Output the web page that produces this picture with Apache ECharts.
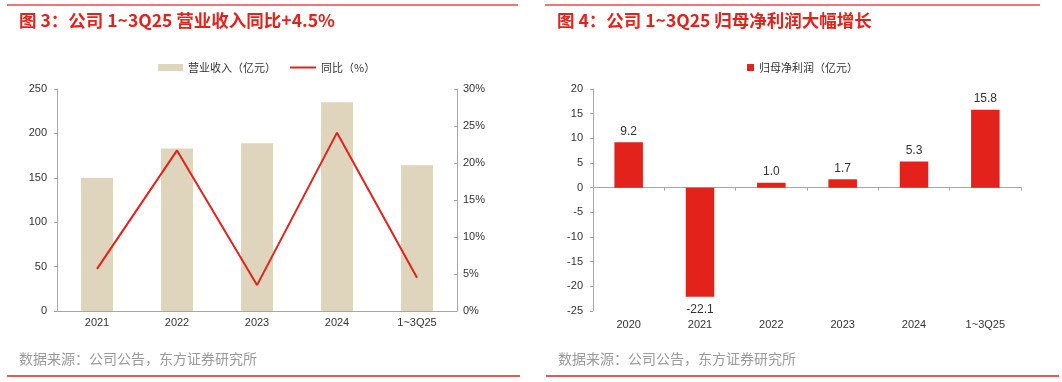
<!DOCTYPE html>
<html><head><meta charset="utf-8">
<script src="https://cdn.jsdelivr.net/npm/echarts@6/dist/echarts.min.js"></script>
<style>html,body{margin:0;padding:0;background:#fff}#c{width:1062px;height:382px}</style>
</head><body><div id="c"></div>
<script>
// Left chart data
const revCategories = ['2021', '2022', '2023', '2024', '1~3Q25'];
const revenue = [150, 183, 189, 235, 164];
const revYoY = [5.7, 21.7, 3.5, 24.1, 4.5];
const revLeftTicks = { min: 0, max: 250, interval: 50 };
const revRightTicks = { min: 0, max: 30, interval: 5 };
// Right chart data
const npCategories = ['2020', '2021', '2022', '2023', '2024', '1~3Q25'];
const netProfit = [9.2, -22.1, 1.0, 1.7, 5.3, 15.8];
const npTicks = { min: -25, max: 20, interval: 5 };

const titleLeft = '图 3：公司 1~3Q25 营业收入同比+4.5%';
const titleRight = '图 4：公司 1~3Q25 归母净利润大幅增长';
const source = '数据来源：公司公告，东方证券研究所';

const RED = '#E3221B';
const AX = '#A6A6A6';
const TXT = '#333333';
const cjk = '"Noto Sans CJK SC", "Liberation Sans", sans-serif';
const latin = '"Liberation Sans", Arial, sans-serif';

const chart = echarts.init(document.getElementById('c'), null, { renderer: 'canvas' });
const axisLabel = { color: TXT, fontSize: 11, fontFamily: latin };

chart.setOption({
  animation: false,
  textStyle: { fontFamily: latin },
  graphic: [
    { type: 'line', shape: { x1: 7, y1: 5, x2: 518, y2: 5 }, style: { stroke: '#E8494A', lineWidth: 1.5 } },
    { type: 'line', shape: { x1: 545, y1: 5, x2: 1040, y2: 5 }, style: { stroke: '#E8494A', lineWidth: 1.5 } },
    { type: 'text', left: 19, top: 12, style: { text: titleLeft, fill: RED, font: 'bold 17.5px ' + cjk } },
    { type: 'text', left: 557, top: 12, style: { text: titleRight, fill: RED, font: 'bold 17.5px ' + cjk } },
    { type: 'text', left: 19, top: 352, style: { text: source, fill: '#9A9A9A', font: '14px ' + cjk } },
    { type: 'text', left: 558, top: 352, style: { text: source, fill: '#9A9A9A', font: '14px ' + cjk } },
    { type: 'line', shape: { x1: 7, y1: 376, x2: 520, y2: 376 }, style: { stroke: '#E25B5B', lineWidth: 2 } },
    { type: 'line', shape: { x1: 546, y1: 376, x2: 1059, y2: 376 }, style: { stroke: '#E25B5B', lineWidth: 2 } }
  ],
  legend: [
    { left: 153, top: 57, itemWidth: 25, itemHeight: 7, itemGap: 10, data: [{ name: '营业收入（亿元）', icon: 'rect' }],
      textStyle: { color: TXT, fontSize: 11, fontFamily: cjk } },
    { left: 285, top: 57, itemWidth: 26, itemHeight: 2, data: [{ name: '同比（%）', icon: 'rect' }],
      textStyle: { color: TXT, fontSize: 11, fontFamily: cjk } },
    { left: 742, top: 57, itemWidth: 7, itemHeight: 7, itemGap: 3, data: [{ name: '归母净利润（亿元）', icon: 'rect' }],
      textStyle: { color: TXT, fontSize: 11, fontFamily: cjk } }
  ],
  grid: [
    { left: 57, right: 605, top: 89, bottom: 71 },
    { left: 593, right: 41, top: 89, bottom: 71 }
  ],
  xAxis: [
    { type: 'category', gridIndex: 0, data: revCategories,
      axisLine: { lineStyle: { color: AX } }, axisTick: { inside: true, length: 4, lineStyle: { color: AX } },
      axisLabel: Object.assign({ margin: 6 }, axisLabel) },
    { type: 'category', gridIndex: 1, position: 'bottom', data: npCategories,
      axisLine: { show: false, onZero: false }, axisTick: { show: false },
      axisLabel: Object.assign({ margin: 8 }, axisLabel) },
    { type: 'category', gridIndex: 1, position: 'top', data: npCategories,
      axisLine: { show: true, onZero: true, lineStyle: { color: AX } },
      axisTick: { show: true, inside: true, length: 3, lineStyle: { color: AX } },
      axisLabel: { show: false } }
  ],
  yAxis: [
    { type: 'value', gridIndex: 0, min: revLeftTicks.min, max: revLeftTicks.max, interval: revLeftTicks.interval,
      axisLine: { show: true, lineStyle: { color: AX } }, axisTick: { show: true, length: 3, lineStyle: { color: AX } },
      splitLine: { show: false }, axisLabel: Object.assign({ margin: 10 }, axisLabel) },
    { type: 'value', gridIndex: 0, position: 'right', min: revRightTicks.min, max: revRightTicks.max, interval: revRightTicks.interval,
      axisLine: { show: true, lineStyle: { color: AX } }, axisTick: { show: true, length: 3, inside: true, lineStyle: { color: AX } },
      splitLine: { show: false }, axisLabel: Object.assign({ margin: 6, formatter: '{value}%' }, axisLabel) },
    { type: 'value', gridIndex: 1, min: npTicks.min, max: npTicks.max, interval: npTicks.interval,
      axisLine: { show: true, lineStyle: { color: AX } }, axisTick: { show: true, length: 3, lineStyle: { color: AX } },
      splitLine: { show: false }, axisLabel: Object.assign({ margin: 10 }, axisLabel) }
  ],
  series: [
    { name: '营业收入（亿元）', type: 'bar', xAxisIndex: 0, yAxisIndex: 0, data: revenue, barWidth: '40%',
      itemStyle: { color: '#DFD5BC' } },
    { name: '同比（%）', type: 'line', xAxisIndex: 0, yAxisIndex: 1, data: revYoY, symbol: 'none',
      lineStyle: { color: RED, width: 2 }, itemStyle: { color: RED } },
    { name: '归母净利润（亿元）', type: 'bar', xAxisIndex: 1, yAxisIndex: 2, barWidth: '40%',
      data: netProfit.map(v => v < 0 ? { value: v, label: { position: 'bottom', distance: 7 } } : v),
      itemStyle: { color: RED },
      label: { show: true, position: 'top', distance: 5, color: TXT, fontSize: 12, fontFamily: latin,
        formatter: p => p.value.toFixed(1) } }
  ]
});
</script>
</body></html>
